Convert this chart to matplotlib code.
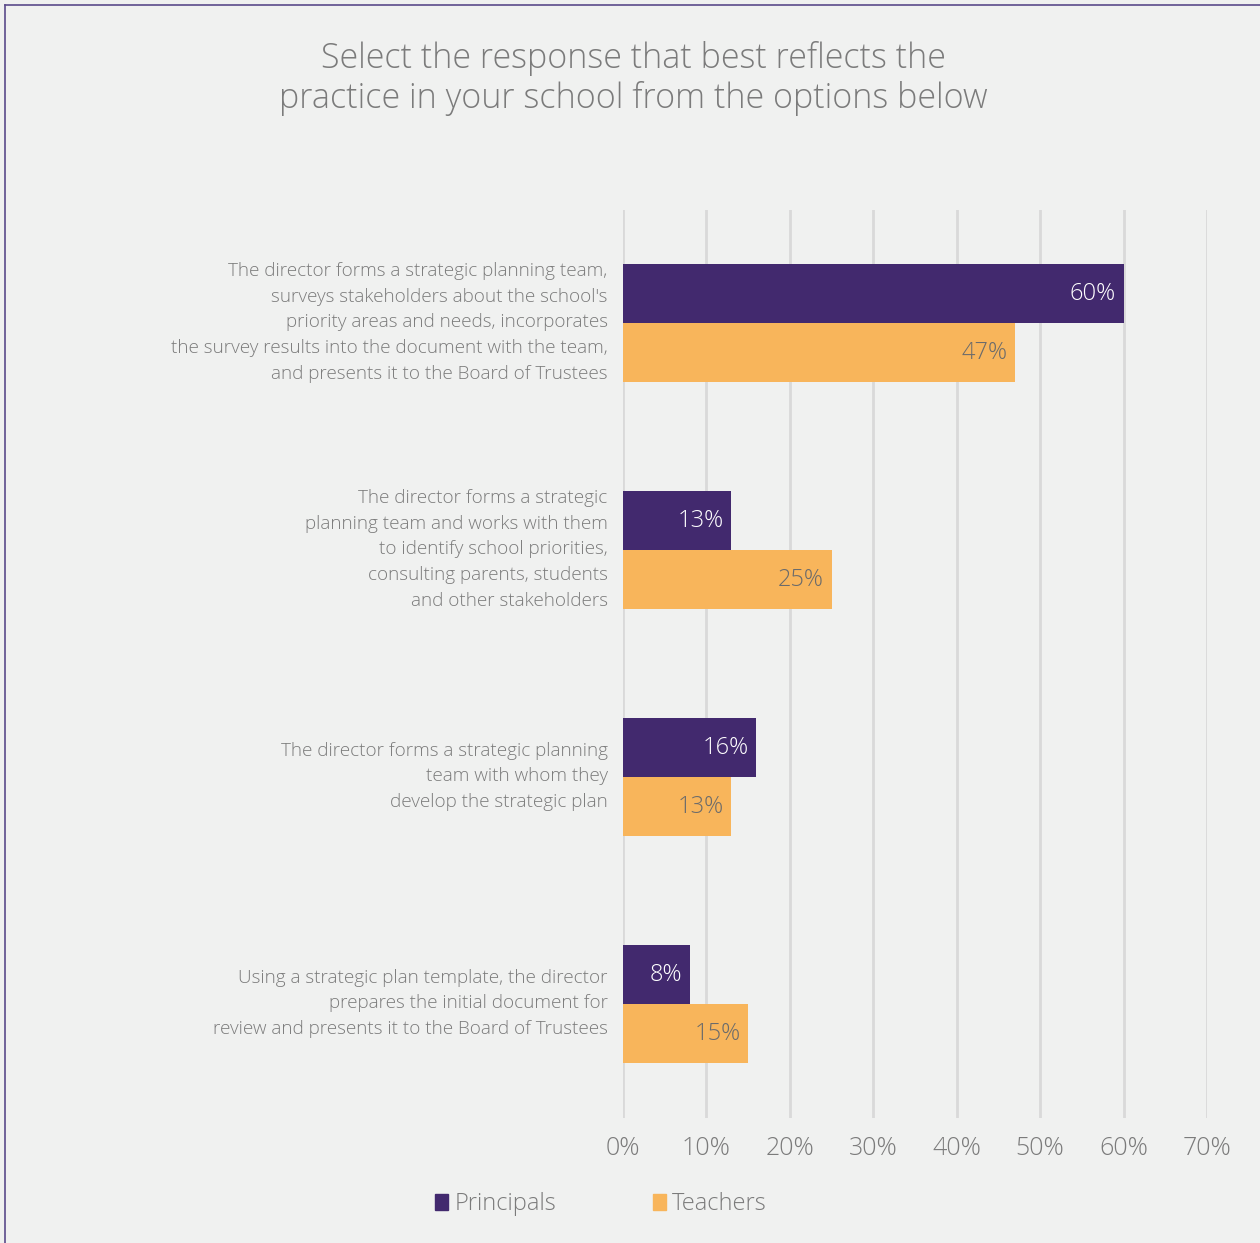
import numpy as np
import matplotlib
matplotlib.use("Agg")
import matplotlib.pyplot as plt
import matplotlib.transforms as mtransforms
from matplotlib.patches import Patch

# ─── Data ─────────────────────────────────────────────────────────────────────
categories = [
    "The director forms a strategic planning team,\n"
    "surveys stakeholders about the school's\n"
    "priority areas and needs, incorporates\n"
    "the survey results into the document with the team,\n"
    "and presents it to the Board of Trustees",
    "The director forms a strategic\n"
    "planning team and works with them\n"
    "to identify school priorities,\n"
    "consulting parents, students\n"
    "and other stakeholders",
    "The director forms a strategic planning\n"
    "team with whom they\n"
    "develop the strategic plan",
    "Using a strategic plan template, the director\n"
    "prepares the initial document for\n"
    "review and presents it to the Board of Trustees",
]
principals = [60, 13, 16, 8]
teachers = [47, 25, 13, 15]
x_ticks = [0, 10, 20, 30, 40, 50, 60, 70]

PURPLE = "#42296e"
ORANGE = "#f8b55b"
BG = "#f0f1f0"
GREY = "#7b7b7b"

plt.rcParams["font.family"] = ["Open Sans", "DejaVu Sans"]
plt.rcParams["font.weight"] = "light"

fig = plt.figure(figsize=(12.6, 12.43), dpi=100, facecolor=BG)
ax = fig.add_axes([0.4944, 0.1006, 0.4635, 0.7305], facecolor=BG)

y = np.arange(len(categories))
h = 0.26
ax.barh(y - h / 2, principals, height=h, color=PURPLE, zorder=3)
ax.barh(y + h / 2, teachers, height=h, color=ORANGE, zorder=3)

for yi, p, t in zip(y, principals, teachers):
    ax.text(p - 0.9, yi - h / 2, f"{p}%", ha="right", va="center",
            color="white", fontsize=17, zorder=4)
    ax.text(t - 0.9, yi + h / 2, f"{t}%", ha="right", va="center",
            color="#6b6b6b", fontsize=17, zorder=4)

ax.set_xlim(0, 70)
ax.set_ylim(len(categories) - 0.5, -0.5)
ax.set_xticks(x_ticks)
ax.set_xticklabels([f"{v}%" for v in x_ticks], fontsize=18, color=GREY)
ax.set_yticks(y)
ax.set_yticklabels(categories, fontsize=13.6, color=GREY, linespacing=1.55)
ax.tick_params(axis="both", length=0)
ax.tick_params(axis="x", pad=13)
ax.tick_params(axis="y", pad=11)
# labels sit a little above the bar-pair centre in the original
shift = mtransforms.ScaledTranslation(0, 5 / 72, fig.dpi_scale_trans)
for lbl in ax.get_yticklabels():
    lbl.set_transform(lbl.get_transform() + shift)
ax.grid(axis="x", color="#d9d9d9", linewidth=2, zorder=0)
for s in ax.spines.values():
    s.set_visible(False)

fig.text(0.503, 0.937, "Select the response that best reflects the\n"
         "practice in your school from the options below",
         ha="center", va="center", fontsize=24.5, color=GREY, linespacing=1.2)

handles = [Patch(color=PURPLE, label="Principals"),
           Patch(color=ORANGE, label="Teachers")]
fig.legend(handles=handles, loc="center", bbox_to_anchor=(0.477, 0.031),
           ncol=2, frameon=False, fontsize=17, handlelength=0.55,
           handleheight=0.7, handletextpad=0.25, columnspacing=4.1,
           labelcolor=GREY)

# purple frame on top and left edges
fig.add_artist(plt.Line2D([0.004, 1.0], [0.996, 0.996], color="#5b4b8a",
                          linewidth=1.2, transform=fig.transFigure))
fig.add_artist(plt.Line2D([0.004, 0.004], [0.0, 0.996], color="#5b4b8a",
                          linewidth=1.2, transform=fig.transFigure))

fig.savefig("out.png", dpi=100, facecolor=BG)
